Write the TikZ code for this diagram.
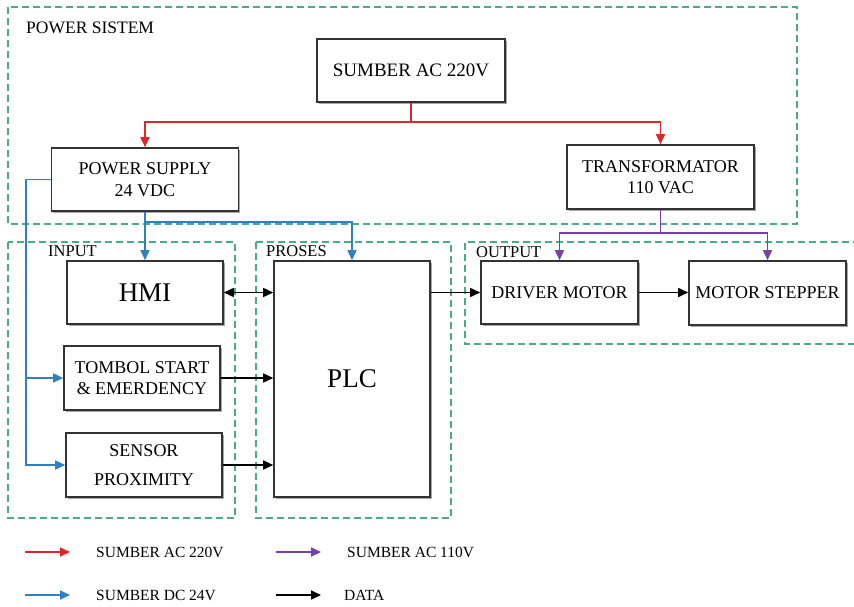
\documentclass[tikz,border=0pt]{standalone}
\usepackage{fontspec}
\setmainfont{Liberation Serif}
\usetikzlibrary{arrows.meta,shadows}
\definecolor{acm}{HTML}{E0262A}
\definecolor{dcb}{HTML}{2F80BE}
\definecolor{acu}{HTML}{7B3FA6}
\definecolor{zon}{HTML}{4BAA8C}
\definecolor{bdr}{HTML}{333333}
\tikzset{
  blok/.style={rectangle, draw=bdr, line width=1.6pt, fill=white, inner sep=0pt, align=center,
    minimum width=156pt, minimum height=63pt, font=\fontsize{18}{21.5}\selectfont,
    drop shadow={shadow xshift=1.5pt, shadow yshift=-1.5pt, opacity=0.35, fill=black}},
  zona/.style={draw=zon, line width=1.4pt, dash pattern=on 7pt off 4pt},
  zlabel/.style={anchor=west, inner sep=0pt, font=\fontsize{16.5}{20}\selectfont},
  ket/.style={anchor=west, inner sep=0pt, font=\fontsize{15.5}{19}\selectfont},
  tip/.style={-{Triangle[length=10pt,width=9pt]}, line width=1.6pt},
  ac/.style={tip, draw=acm},
  dc/.style={tip, draw=dcb},
  acl/.style={tip, draw=acu},
  datalink/.style={tip, draw=black},
  bothlink/.style={{Triangle[length=10pt,width=9pt]}-{Triangle[length=10pt,width=9pt]}, line width=1.6pt},
}

\begin{document}
\begin{tikzpicture}[x=1pt, y=-1pt]
  \useasboundingbox (0,0) rectangle (854,606);
  % zones
  \draw[zona] (8,7) rectangle (797,224);
  \draw[zona] (8,242) rectangle (235,518);
  \draw[zona] (256,242) rectangle (451,518);
  \draw[zona] (860,242) -- (465,242) -- (465,344) -- (860,344);
  \node[zlabel, font=\fontsize{17.5}{20}\selectfont] (lpower) at (26,28) {POWER SISTEM};
  \node[zlabel] (linput) at (48,251) {INPUT};
  \node[zlabel] (lproses) at (266,251) {PROSES};
  \node[zlabel] (loutput) at (476,252) {OUTPUT};
  % blocks
  \node[blok, minimum width=188pt, font=\fontsize{19}{22}\selectfont] (sumber) at (411,70.5) {SUMBER AC 220V};
  \node[blok, minimum width=187pt] (psu) at (145,179.5) {POWER SUPPLY\\24 VDC};
  \node[blok, minimum width=187pt, minimum height=64pt] (trafo) at (660.5,177) {TRANSFORMATOR\\110 VAC};
  \node[blok, font=\fontsize{27}{30}\selectfont] (hmi) at (145,292.5) {HMI};
  \node[blok, minimum height=64pt] (tombol) at (142,378) {TOMBOL START\\\& EMERDENCY};
  \node[blok, minimum height=64pt] (sensor) at (144,465) {SENSOR\\[7pt]PROXIMITY};
  \node[blok, minimum height=236pt, font=\fontsize{27}{30}\selectfont] (plc) at (352,379) {PLC};
  \node[blok, minimum width=157pt] (driver) at (559.5,292.5) {DRIVER MOTOR};
  \node[blok, minimum width=157pt, minimum height=64pt] (stepper) at (767.5,293) {MOTOR STEPPER};
  % AC 220V
  \coordinate (jr) at (411,122);
  \draw[ac] (sumber.south) -- (jr) -| (psu.north);
  \draw[ac] (jr) -| (trafo.north);
  % DC 24V
  \coordinate (jb) at (26,179.5);
  \coordinate (jd) at (145,222);
  \draw[dc] (psu.west) -- (jb) |- (tombol.west);
  \draw[dc] (jb) |- (sensor.west);
  \draw[dc] (psu.south) -- (hmi.north);
  \draw[dc] (jd) -| (plc.north);
  % AC 110V
  \coordinate (jp) at (660.5,233);
  \draw[acl] (trafo.south) -- (jp) -| (driver.north);
  \draw[acl] (jp) -| (stepper.north);
  % data
  \draw[bothlink] (hmi.east) -- (hmi.east -| plc.west);
  \draw[datalink] (tombol.east) -- (tombol.east -| plc.west);
  \draw[datalink] (sensor.east) -- (sensor.east -| plc.west);
  \draw[datalink] (driver.west -| plc.east) -- (driver.west);
  \draw[datalink] (driver.east) -- (driver.east -| stepper.west);
  % legend
  \coordinate (ka) at (25,552);
  \coordinate (kb) at (25,595);
  \coordinate (kc) at (276,552);
  \coordinate (kd) at (276,595);
  \draw[ac] (ka) -- ++(45,0);
  \draw[dc] (kb) -- ++(45,0);
  \draw[acl] (kc) -- ++(45,0);
  \draw[datalink] (kd) -- ++(45,0);
  \node[ket] (tka) at (96,552) {SUMBER AC 220V};
  \node[ket] (tkb) at (96,595) {SUMBER DC 24V};
  \node[ket] (tkc) at (347,552) {SUMBER AC 110V};
  \node[ket] (tkd) at (344,595) {DATA};
\end{tikzpicture}
\end{document}
